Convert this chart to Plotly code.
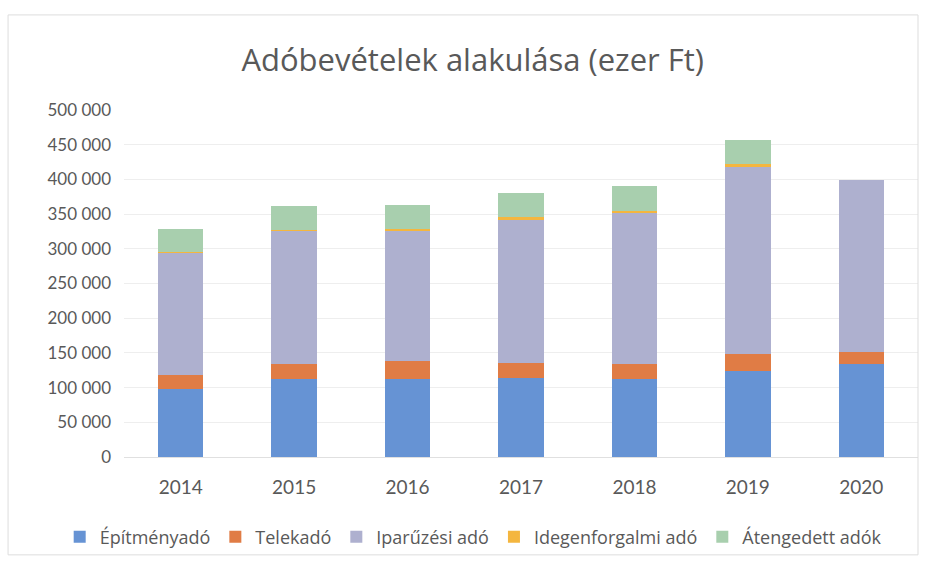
import plotly.graph_objects as go

years = ["2014", "2015", "2016", "2017", "2018", "2019", "2020"]
epitmeny = [98000, 112000, 113000, 113500, 112000, 123500, 133500]
telek = [19500, 21500, 25500, 22000, 21500, 24500, 18000]
iparuzesi = [176500, 192500, 188500, 206500, 217500, 270000, 247500]
idegenforgalmi = [1000, 1000, 2000, 3500, 3500, 3500, 0]
atengedett = [33000, 34500, 34000, 34500, 36500, 35000, 0]

series = [
    ("Építményadó", epitmeny, "#6693d4"),
    ("Telekadó", telek, "#e07c45"),
    ("Iparűzési adó", iparuzesi, "#aeb0cf"),
    ("Idegenforgalmi adó", idegenforgalmi, "#f4b63f"),
    ("Átengedett adók", atengedett, "#a8cfae"),
]

tick_vals = [0, 50000, 100000, 150000, 200000, 250000, 300000, 350000, 400000, 450000, 500000]
tick_text = ["0", "50 000", "100 000", "150 000", "200 000", "250 000", "300 000",
             "350 000", "400 000", "450 000", "500 000"]

fig = go.Figure()
for name, vals, col in series:
    fig.add_trace(go.Bar(x=years, y=vals, name=name, marker=dict(color=col, line=dict(width=0))))

fig.update_layout(
    barmode="stack",
    bargap=0.6,
    width=925, height=567,
    paper_bgcolor="white", plot_bgcolor="white",
    font=dict(family="Lato, Open Sans, sans-serif", color="#595959"),
    title=dict(text="Adóbevételek alakulása (ezer Ft)", x=0.511, xanchor="center", xref="container",
               y=0.894, yanchor="middle",
               font=dict(family="Open Sans, sans-serif", size=31, color="#595959")),
    margin=dict(l=124, r=7, t=110, b=110),
    legend=dict(orientation="h", x=-0.081, xanchor="left", y=-0.2305, yanchor="middle",
                font=dict(family="Open Sans, sans-serif", size=18, color="#595959"),
                traceorder="normal", itemwidth=30, bgcolor="rgba(0,0,0,0)"),
    showlegend=True,
)
fig.update_yaxes(range=[0, 500000], tickvals=tick_vals, ticktext=tick_text,
                 showgrid=True, gridcolor="#eeeeee", zeroline=False,
                 tickfont=dict(size=17, color="#595959"), ticklabelstandoff=12)
fig.update_xaxes(showline=True, linecolor="#e0e0e0", tickfont=dict(size=19, color="#595959"),
                 ticklabelstandoff=13)
fig.add_shape(type="rect", xref="paper", yref="paper", x0=-0.146, x1=1.0, y0=-0.282, y1=1.274,
              line=dict(color="#dddddd", width=1))

fig.write_html("out.html", config={"displayModeBar": False},
               post_script="document.body.style.margin='0';")
